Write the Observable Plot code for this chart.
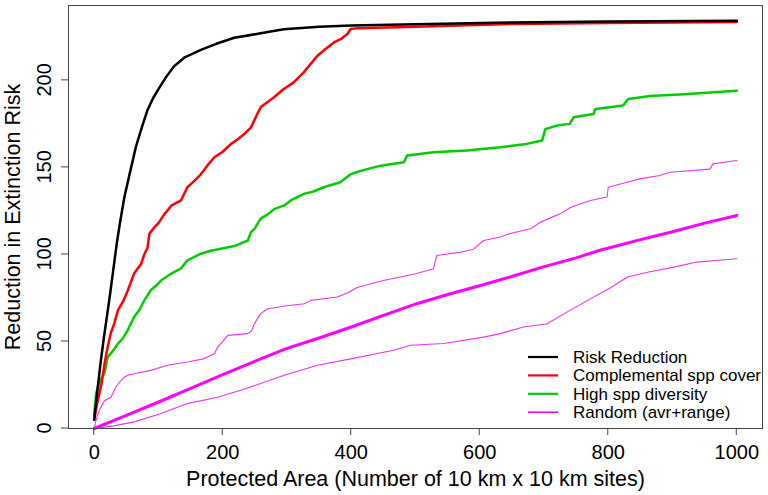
<!DOCTYPE html>
<html>
<head>
<meta charset="utf-8">
<script src="https://cdn.jsdelivr.net/npm/d3@7"></script>
<script src="https://cdn.jsdelivr.net/npm/@observablehq/plot@0.6"></script>
<style>
  html, body { margin: 0; padding: 0; background: #fff; }
  #chart { width: 768px; height: 495px; }
  svg { font-family: "Liberation Sans", Arial, sans-serif; }
</style>
</head>
<body>
<div id="chart"></div>
<script>
// ---- data ----
const xTicks = [0, 200, 400, 600, 800, 1000];
const yTicks = [0, 50, 100, 150, 200];
const xTitle = "Protected Area (Number of 10 km x 10 km sites)";
const yTitle = "Reduction in Extinction Risk";
const seriesNames = ["Risk Reduction", "Complemental spp cover", "High spp diversity", "Random (avr+range)"];
const seriesColors = ["#000000", "#ff0000", "#00cd00", "#ff00ff"];

const riskX = [0,5,10,15,20,25,30,35,40,47,55,65,75,83,92,100,112,124,140,166,190,218,259,295,350,400,500,647,800,1000];
const riskY = [5,22,38,52,65,78,92,106,118,133,146,162,174,183,190,195,202,208,213,217.5,221,224.5,227,229.3,230.8,231.5,232.3,233.2,233.8,234.3];

const complX = [0,5,11,16,21,26,31,37,45,52,62,68,73,78,83,86,94,100,109,120,135,145,155,166,176,187,200,213,223,233,244,254,259,264,279,295,310,326,347,360,373,385,394,399,410,500,647,800,1000];
const complY = [5,15,25,37,47,55,60,68,73,79,89,92,94.5,100,104,112,115.7,118,123,128,131,138.6,142,146,151,155.8,159,163.5,166,169,173,180.8,184.5,186,190,195,198.7,204.6,214,218,221.8,224,226.6,229.5,230,230.8,232.4,233,233.5];

const divX = [0,3,6,10,16,21,30,37,45,52,62,70,78,88,96,104,120,135,145,166,180,197,220,239,244,250,259,270,280,295,306,326,340,357,370,383,399,410,425,446,482,487,528,580,632,673,697,702,720,740,746,777,780,823,831,865,917,1000];
const divY = [8,20,24,28,31.7,41,45,48.8,52,56.4,64,68,73.6,79.4,82,85,89,92,96.6,100.4,102,103.3,105,108,112.8,115,120.6,123,126,128,131,134.8,136,138.6,140,141.5,146,147.5,149,151,153,156.8,158.7,159.7,161.6,163.5,165.4,172,174,175,178.8,180.7,183.6,185.5,189.3,191,192,194];

const avgX = [0,50,104,150,200,259,300,350,400,450,502,550,600,647,700,750,787,850,900,950,1000];
const avgY = [0,7.5,15.8,23,31,40,46,52,58.3,65,71.7,77,82,87,93,98,102.4,108.5,113,118,122.4];

const upX = [0,3,6,10,16,26,30,34,42,47,55,62.6,88,114,145,170,187,192,200,208,238.7,245,249,259,270,300,327,337,378,395,409,450,502,528,533,570,590,606,632,647,679,694,710,725,741,772,798,800,829,849,880,896,958,963,1000];
const upY = [0,5,8.6,12,16,18,21,24,27.7,29.6,31,31.5,33.4,36.3,38.2,40,43,46.8,50,53.5,54.5,56,60,66,68.8,70.5,71.7,73.6,75.5,78,81,85,89,91.8,99.4,101.3,103,108,110,112,114.7,118.5,121,123.3,127,131,133,138.6,141.5,143.4,145.3,147.2,149,152,154];

const lowX = [0,30,62.5,104,145,192,228,259,295.5,347.5,399,466,492,544,606,632,668,704,741,768,804,830,861,902,938,1000];
const lowY = [0,1.5,3.8,8.6,14.3,18,22,25.8,30.6,36.3,40,45,47.8,48.8,52.5,54.5,58.3,60,68,73.6,81,87,89.8,92.7,95.6,97.5];

// ---- build tables ----
const zip = (xs, ys) => xs.map((x, i) => ({x, y: ys[i]}));
const risk = zip(riskX, riskY);
const compl = zip(complX, complY);
const div = zip(divX, divY);
const avg = zip(avgX, avgY);
const up = zip(upX, upY);
const low = zip(lowX, lowY);

const font = "'Liberation Sans', Arial, sans-serif";
const axisColor = "#444";

const chart = Plot.plot({
  width: 768,
  height: 495,
  marginLeft: 68,
  marginRight: 6,
  marginTop: 5,
  marginBottom: 67,
  style: {fontFamily: font, background: "#fff", color: "#000"},
  x: {domain: [-40, 1040], axis: null},
  y: {domain: [0, 243], axis: null},
  marks: [
    Plot.text(xTicks, {x: d => d, frameAnchor: "bottom", dy: 24, lineAnchor: "middle", text: d => String(d), fontSize: 20, fill: "#000"}),
    Plot.text([xTitle], {frameAnchor: "bottom", dy: 51, lineAnchor: "middle", text: d => d, fontSize: 21.5, fill: "#000"}),
    Plot.text([yTitle], {frameAnchor: "left", dx: -55, rotate: -90, textAnchor: "middle", lineAnchor: "middle", text: d => d, fontSize: 21.5, fill: "#000"}),
    Plot.line(low, {x: "x", y: "y", stroke: "#ee33ee", strokeWidth: 1.1}),
    Plot.line(up, {x: "x", y: "y", stroke: "#ee33ee", strokeWidth: 1.1}),
    Plot.line(avg, {x: "x", y: "y", stroke: seriesColors[3], strokeWidth: 3}),
    Plot.line(div, {x: "x", y: "y", stroke: seriesColors[2], strokeWidth: 2.5}),
    Plot.line(compl, {x: "x", y: "y", stroke: seriesColors[1], strokeWidth: 2.5}),
    Plot.line(risk, {x: "x", y: "y", stroke: seriesColors[0], strokeWidth: 2.5}),
    Plot.frame({stroke: axisColor, strokeWidth: 1})
  ]
});

const svg = d3.select(chart);
const xScale = chart.scale("x");
const yScale = chart.scale("y");
const left = 68, bottom = 495 - 67;

// tick marks (through Plot's scales)
const tk = svg.append("g").attr("stroke", axisColor).attr("stroke-width", 1);
xTicks.forEach(t => {
  const px = xScale.apply(t);
  tk.append("line").attr("x1", px).attr("x2", px).attr("y1", bottom).attr("y2", bottom + 7);
});
yTicks.forEach(t => {
  const py = yScale.apply(t);
  tk.append("line").attr("x1", left - 7).attr("x2", left).attr("y1", py).attr("y2", py);
});

// rotated y tick labels (R style)
yTicks.forEach(t => {
  const py = yScale.apply(t);
  const g = svg.append("g").attr("transform", "translate(44," + py + ")");
  g.append("g").attr("transform", "rotate(-90)")
    .append("text")
    .attr("font-family", font).attr("font-size", 20)
    .attr("text-anchor", "middle").attr("fill", "#000")
    .attr("dy", "0.35em").text(String(t));
});

// legend inside the plot area (bottom right)
const lg = svg.append("g").attr("font-family", font).attr("font-size", 17).attr("text-anchor", "start");
seriesNames.forEach((name, i) => {
  const cy = 357 + i * 18.4;
  lg.append("line").attr("x1", 528).attr("x2", 558).attr("y1", cy).attr("y2", cy)
    .attr("stroke", seriesColors[i]).attr("stroke-width", i === 3 ? 1.6 : 2.2);
  lg.append("text").attr("x", 573).attr("y", cy).attr("dy", "0.35em").attr("fill", "#000").text(name);
});

document.getElementById("chart").appendChild(chart);
</script>
</body>
</html>
